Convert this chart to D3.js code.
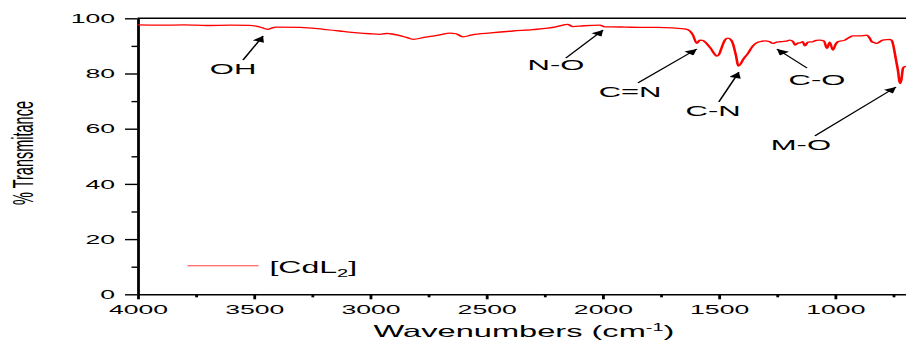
<!DOCTYPE html>
<html>
<head>
<meta charset="utf-8">
<script src="https://cdn.jsdelivr.net/npm/d3@7"></script>
<style>
  html, body { margin: 0; padding: 0; background: #fff; }
  svg { display: block; font-family: "Liberation Sans", Arial, sans-serif; }
</style>
</head>
<body>
<div id="chart"></div>
<script>
// IR spectrum of [CdL2]
const waveNumbers = [
  4000, 3900, 3800, 3700, 3600, 3520, 3480, 3455, 3440, 3425, 3405, 3300, 3200, 3130, 3100,
  3000, 2957, 2930, 2914, 2880, 2840, 2815, 2760, 2700, 2656, 2630, 2600, 2560, 2480, 2385,
  2300, 2200, 2160, 2150, 2127, 2080, 2011, 1990, 1960, 1900, 1840, 1760, 1700, 1640, 1625,
  1611, 1594, 1581, 1570, 1559, 1535, 1515, 1508, 1495, 1486, 1472, 1460, 1448, 1439, 1426,
  1415, 1405, 1396, 1374, 1353, 1335, 1323, 1300, 1280, 1267, 1250, 1237, 1210, 1194, 1180,
  1172, 1160, 1151, 1138, 1129, 1116, 1095, 1080, 1065, 1047, 1034, 1022, 1009, 996, 987,
  957, 940, 922, 892, 862, 850, 841, 830, 819, 800, 794, 763, 755, 750, 742,
  735, 729, 720, 714, 707, 700, 694
];
const transmittance = [
  97.6, 97.5, 97.6, 97.4, 97.5, 97.4, 97.0, 96.3, 96.0, 96.4, 96.8, 96.7, 96.0, 95.4, 95.1,
  94.4, 94.2, 94.5, 94.4, 93.9, 93.0, 92.4, 93.2, 94.0, 94.6, 94.4, 93.3, 94.0, 94.7, 95.4,
  95.9, 96.9, 97.7, 97.8, 97.0, 97.3, 97.5, 96.9, 96.9, 96.8, 96.7, 96.7, 96.5, 96.1, 95.5,
  94.0, 90.9, 92.1, 92.0, 91.5, 89.2, 86.8, 86.3, 87.5, 89.6, 92.2, 92.8, 92.3, 90.9, 86.7,
  82.7, 83.5, 84.9, 87.3, 90.0, 91.2, 91.5, 91.8, 91.5, 90.9, 91.4, 91.5, 91.7, 92.1, 91.6,
  90.3, 91.0, 91.1, 91.5, 90.0, 91.4, 91.5, 92.0, 92.1, 91.8, 89.1, 91.4, 88.5, 90.7, 91.5,
  92.1, 93.0, 93.6, 93.6, 93.9, 92.8, 91.5, 91.2, 90.9, 91.9, 92.1, 92.4, 92.0, 90.7, 87.3,
  84.0, 81.3, 76.4, 77.7, 81.9, 82.5, 82.5
];

const xTicks = [4000, 3500, 3000, 2500, 2000, 1500, 1000];
const xMinorTicks = [3750, 3250, 2750, 2250, 1750, 1250, 750];
const yTicks = [0, 20, 40, 60, 80, 100];
const yMinorTicks = [10, 30, 50, 70, 90];

// band labels: arrow tip, arrow tail and label anchor, in (cm-1, %T)
const bandLabels = ["OH", "N-O", "C=N", "C-N", "C-O", "M-O"];
const bandTips = [[3460, 93.6], [1997, 95.8], [1594, 88.9], [1413, 80.5], [1249, 88.9], [737, 75.1]];
const bandTails = [[3546, 84.9], [2157, 85.6], [1847, 76.6], [1499, 69.7], [1120, 82.0], [1086, 57.4]];
const bandTextAt = [[3589, 79.8], [2200, 81.2], [1881, 71.6], [1524, 64.7], [1077, 75.8], [1146, 52.3]];

const W = 906, H = 342;
const SX = 2; // the original picture is stretched sideways
const color = "#ff0000";

const d3 = window.d3;
const svg = d3.select("#chart").append("svg")
  .attr("width", W)
  .attr("height", H);

const g = svg.append("g").attr("transform", `scale(${SX},1)`);

const plotL = 137.5 / SX, plotR = W / SX, plotT = 18.3, plotB = 294.3;

const x = d3.scaleLinear().domain([4000, 694]).range([plotL, plotR]);
const y = d3.scaleLinear().domain([0, 100]).range([plotB, plotT]);

// top frame
g.append("line")
  .attr("x1", plotL).attr("x2", plotR)
  .attr("y1", plotT).attr("y2", plotT)
  .attr("stroke", "#000").attr("stroke-width", 1.4);

// axes
const yAxis = g.append("g")
  .attr("transform", `translate(${plotL},0)`)
  .call(d3.axisLeft(y).tickValues(yTicks).tickSize(6.25).tickSizeOuter(0).tickPadding(5));
g.append("g")
  .attr("transform", `translate(${plotL},0)`)
  .call(d3.axisLeft(y).tickValues(yMinorTicks).tickSize(3).tickFormat(""))
  .call(a => a.select(".domain").remove());

const xAxis = g.append("g")
  .attr("transform", `translate(0,${plotB})`)
  .call(d3.axisBottom(x).tickValues(xTicks).tickSize(5).tickSizeOuter(0).tickPadding(4.8).tickFormat(d3.format("d")));
g.append("g")
  .attr("transform", `translate(0,${plotB})`)
  .call(d3.axisBottom(x).tickValues(xMinorTicks).tickSize(3).tickFormat(""))
  .call(a => a.select(".domain").remove());

g.selectAll(".domain, .tick line").attr("stroke", "#000").attr("stroke-width", 1.4);
[xAxis, yAxis].forEach(a => a.selectAll("text")
  .attr("fill", "#000")
  .style("font-size", "13.3px")
  .style("font-family", "\"Liberation Sans\", Arial, sans-serif"));

// axis titles
g.append("text")
  .attr("transform", `translate(16.5,153) rotate(-90)`)
  .attr("text-anchor", "middle")
  .style("font-size", "14.5px")
  .text("% Transmitance");

const xt = g.append("text")
  .attr("x", 262).attr("y", 337.5)
  .attr("text-anchor", "middle")
  .style("font-size", "16.3px");
xt.append("tspan").text("Wavenumbers (cm");
xt.append("tspan").attr("dy", -6.5).style("font-size", "10px").text("-1");
xt.append("tspan").attr("dy", 6.5).text(")");

// spectrum
const spectrum = waveNumbers.map((w, i) => ({ w, t: transmittance[i] }));
g.append("path")
  .datum(spectrum)
  .attr("fill", "none")
  .attr("stroke", color)
  .attr("stroke-width", 1.3)
  .attr("stroke-linejoin", "round")
  .attr("d", d3.line().x(d => x(d.w)).y(d => y(d.t)).curve(d3.curveMonotoneX));

// arrows + labels
const defs = svg.append("defs");
defs.append("marker")
  .attr("id", "head")
  .attr("viewBox", "0 0 10 10")
  .attr("refX", 10).attr("refY", 5)
  .attr("markerWidth", 7).attr("markerHeight", 6)
  .attr("markerUnits", "userSpaceOnUse")
  .attr("orient", "auto")
  .append("path")
  .attr("d", "M0,0L10,5L0,10Z")
  .attr("fill", "#000");

const bands = bandLabels.map((label, i) => ({
  label, tip: bandTips[i], tail: bandTails[i], at: bandTextAt[i]
}));

g.append("g").selectAll("line")
  .data(bands)
  .join("line")
  .attr("x1", d => x(d.tail[0])).attr("y1", d => y(d.tail[1]))
  .attr("x2", d => x(d.tip[0])).attr("y2", d => y(d.tip[1]))
  .attr("stroke", "#000")
  .attr("stroke-width", 0.9)
  .attr("marker-end", "url(#head)");

g.append("g").selectAll("text")
  .data(bands)
  .join("text")
  .attr("x", d => x(d.at[0]))
  .attr("y", d => y(d.at[1]))
  .attr("text-anchor", "middle")
  .style("font-size", "15.5px")
  .text(d => d.label);

// legend
const lg = g.append("g").attr("transform", `translate(${plotL + 25},${y(10) - 1})`);
lg.append("line")
  .attr("x1", 0).attr("x2", 35.5)
  .attr("stroke", color).attr("stroke-opacity", 0.75).attr("stroke-width", 1.1);
const lt = lg.append("text")
  .attr("x", 41).attr("y", 7)
  .style("font-size", "16px");
lt.append("tspan").text("[CdL");
lt.append("tspan").attr("dy", 4).style("font-size", "10px").text("2");
lt.append("tspan").attr("dy", -4).text("]");
</script>
</body>
</html>
